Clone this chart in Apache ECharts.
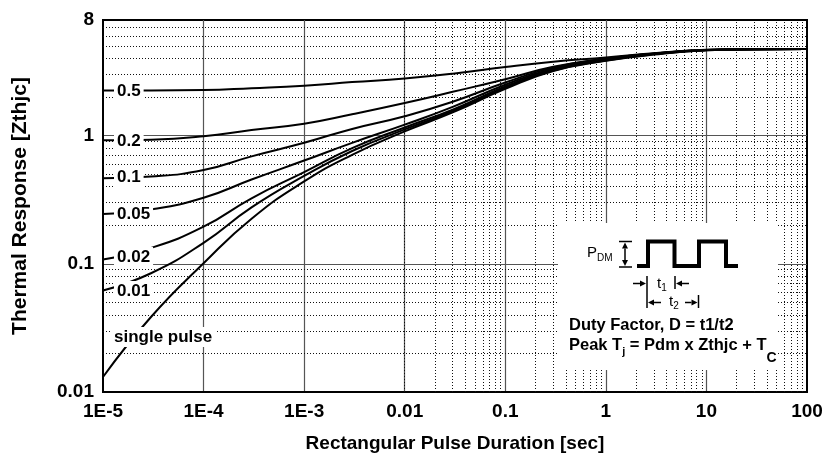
<!DOCTYPE html>
<html>
<head>
<meta charset="utf-8">
<script src="https://cdn.jsdelivr.net/npm/echarts@6/dist/echarts.min.js"></script>
<style>
  html, body { margin: 0; padding: 0; background: #fff; }
  #chart { width: 827px; height: 467px; }
</style>
</head>
<body>
<div id="chart"></div>
<script>
// pulse duration [sec]
const pulseDuration = [1e-5, 3e-5, 1e-4, 3e-4, 1e-3, 3e-3, 0.01, 0.03, 0.1, 0.3, 1, 3, 10, 30, 100];

// Zthjc, one list per duty factor
const zD05 = [2.25, 2.25, 2.27, 2.35, 2.46, 2.62, 2.80, 3.05, 3.44, 3.78, 4.08, 4.40, 4.68, 4.74, 4.76];
const zD02 = [0.92, 0.93, 0.99, 1.11, 1.24, 1.47, 1.80, 2.20, 2.76, 3.45, 4.01, 4.38, 4.67, 4.74, 4.76];
const zD01 = [0.465, 0.48, 0.54, 0.69, 0.88, 1.13, 1.42, 1.84, 2.60, 3.40, 3.98, 4.37, 4.67, 4.74, 4.76];
const zD005 = [0.245, 0.266, 0.328, 0.455, 0.64, 0.88, 1.22, 1.68, 2.50, 3.33, 3.94, 4.36, 4.66, 4.73, 4.76];
const zD002 = [0.108, 0.133, 0.195, 0.325, 0.52, 0.80, 1.16, 1.60, 2.42, 3.27, 3.90, 4.34, 4.66, 4.73, 4.76];
const zD001 = [0.062, 0.0845, 0.146, 0.276, 0.485, 0.76, 1.12, 1.56, 2.37, 3.23, 3.87, 4.32, 4.65, 4.73, 4.76];
const zSingle = [0.0131, 0.0385, 0.101, 0.225, 0.44, 0.71, 1.08, 1.52, 2.32, 3.20, 3.84, 4.30, 4.64, 4.73, 4.76];

const dutyLabels = ["0.5", "0.2", "0.1", "0.05", "0.02", "0.01", "single pulse"];
const xTickLabels = ["1E-5", "1E-4", "1E-3", "0.01", "0.1", "1", "10", "100"];
const yTickValues = [0.01, 0.1, 1, 8];
const yTickLabels = ["0.01", "0.1", "1", "8"];

const FONT = "'Liberation Sans', Arial, sans-serif";

// minor (2..9) grid positions for each decade
const xMinor = [];
for (let e = -5; e <= 1; e++) for (let m = 2; m <= 9; m++) xMinor.push(m * Math.pow(10, e));
const yMinor = [];
for (let e = -2; e <= 0; e++) for (let m = 2; m <= 9; m++) {
  const v = m * Math.pow(10, e);
  if (v < 8) yMinor.push(v);
}

const curves = [zD05, zD02, zD01, zD005, zD002, zD001, zSingle];

const ctx = document.createElement("canvas").getContext("2d");
function textWidth(str, font) {
  ctx.font = font;
  return ctx.measureText(str).width;
}

// text pieces laid out one after another (for subscripts)
function run(x, y, parts) {
  const out = [];
  let cx = x;
  for (const [t, size, bold, dy] of parts) {
    const font = (bold ? "bold " : "") + size + "px " + FONT;
    out.push({ type: "text", z: 12, silent: true, x: cx, y: y + dy,
      style: { text: t, font: font, fill: "#000", verticalAlign: "middle" } });
    cx += textWidth(t, font);
  }
  return out;
}

function arrow(x1, y1, x2, y2) {
  const len = Math.hypot(x2 - x1, y2 - y1);
  const ux = (x2 - x1) / len, uy = (y2 - y1) / len;
  const h = 6, w = 3;
  const bx = x2 - ux * h, by = y2 - uy * h;
  return [
    { type: "line", z: 12, silent: true, shape: { x1: x1, y1: y1, x2: bx, y2: by }, style: { stroke: "#000", lineWidth: 1.5 } },
    { type: "polygon", z: 12, silent: true, shape: { points: [[x2, y2], [bx - uy * w, by + ux * w], [bx + uy * w, by - ux * w]] }, style: { fill: "#000" } }
  ];
}

function vline(x, y1, y2, w) {
  return { type: "line", z: 12, silent: true, shape: { x1: x, y1: y1, x2: x, y2: y2 }, style: { stroke: "#000", lineWidth: w || 1.5 } };
}
function hline(x1, x2, y, w) {
  return { type: "line", z: 12, silent: true, shape: { x1: x1, y1: y, x2: x2, y2: y }, style: { stroke: "#000", lineWidth: w || 1.5 } };
}

// duty factor labels on the left, white boxes over the grid
const labelPos = [[114, 91], [114, 141], [114, 177], [114, 214], [114, 257], [114, 291], [111, 337]];
const curveLabels = dutyLabels.map((t, i) => ({
  type: "text", z: 12, silent: true, x: labelPos[i][0], y: labelPos[i][1],
  style: { text: t, font: "bold 17px " + FONT, fill: "#000", verticalAlign: "middle",
    backgroundColor: "#fff", padding: [2, 3, 1, 3] }
}));

const inset = [
  { type: "rect", z: 11, silent: true, shape: { x: 558, y: 223, width: 220, height: 147 }, style: { fill: "#fff" } },
  ...run(587, 253, [["P", 15, false, 0], ["DM", 10, false, 5]]),
  hline(619, 632, 241.5), hline(619, 632, 267),
  ...arrow(625, 254, 625, 242.5), ...arrow(625, 254, 625, 266),
  { type: "polyline", z: 12, silent: true,
    shape: { points: [[637, 266], [648, 266], [648, 241.5], [674.5, 241.5], [674.5, 266], [699, 266], [699, 241.5], [726, 241.5], [726, 266], [738, 266]] },
    style: { stroke: "#000", lineWidth: 4, lineJoin: "miter", fill: null } },
  vline(647, 276, 308), vline(675, 276, 289), vline(698.5, 295, 308),
  ...arrow(633, 283.5, 646, 283.5), ...arrow(689, 283.5, 676, 283.5),
  ...arrow(661, 302.5, 648, 302.5), ...arrow(685, 302.5, 697.5, 302.5),
  ...run(657, 284, [["t", 15, false, 0], ["1", 10, false, 4]]),
  ...run(669, 302, [["t", 15, false, 0], ["2", 10, false, 4]]),
  ...run(569, 325, [["Duty Factor, D = t1/t2", 16.5, true, 0]]),
  ...run(569, 345, [["Peak T", 16.5, true, 0], ["j", 11, true, 7], [" = Pdm x Zthjc + T", 16.5, true, 0], ["C", 14, true, 13]])
];

const chart = echarts.init(document.getElementById("chart"), null, { renderer: "canvas" });

const series = curves.map((vals, i) => ({
  name: dutyLabels[i],
  type: "line",
  data: pulseDuration.map((x, k) => [x, vals[k]]),
  showSymbol: false,
  smooth: 0.5,
  silent: true,
  z: 3,
  lineStyle: { color: "#000", width: 2 }
}));

series.push({
  type: "line",
  data: [[1e-5, 0.01]],
  showSymbol: false,
  silent: true,
  lineStyle: { opacity: 0 },
  markLine: {
    silent: true,
    z: 1,
    symbol: "none",
    animation: false,
    label: { show: false },
    emphasis: { disabled: true },
    lineStyle: { color: "#111", width: 1, type: [1, 2] },
    data: [...xMinor.map(v => ({ xAxis: v })), ...yMinor.map(v => ({ yAxis: v }))]
  }
});

chart.setOption({
  animation: false,
  backgroundColor: "#fff",
  grid: { left: 103, right: 20, top: 20, bottom: 75, show: true, borderColor: "#000", borderWidth: 2, backgroundColor: "transparent" },
  xAxis: {
    type: "log",
    logBase: 10,
    min: 1e-5,
    max: 100,
    name: "Rectangular Pulse Duration [sec]",
    nameLocation: "middle",
    nameGap: 42,
    nameTextStyle: { fontSize: 19, fontWeight: "bold", color: "#000", fontFamily: FONT },
    axisLine: { show: true, lineStyle: { color: "#000", width: 2 } },
    axisTick: { show: false },
    axisLabel: {
      color: "#000", fontSize: 19, fontWeight: "bold", fontFamily: FONT, margin: 10,
      showMinLabel: true, showMaxLabel: true,
      formatter: v => xTickLabels[Math.round(Math.log10(v)) + 5] || ""
    },
    splitLine: { show: true, showMinLine: false, showMaxLine: false, lineStyle: { color: "#555", width: 1.2 } }
  },
  yAxis: {
    type: "log",
    logBase: 10,
    min: 0.01,
    max: 8,
    name: "Thermal Response [Zthjc]",
    nameLocation: "middle",
    nameGap: 72,
    nameTextStyle: { fontSize: 21, fontWeight: "bold", color: "#000", fontFamily: FONT },
    axisLine: { show: true, lineStyle: { color: "#000", width: 2 } },
    axisTick: { show: false },
    axisLabel: {
      color: "#000", fontSize: 19, fontWeight: "bold", fontFamily: FONT, margin: 9,
      showMinLabel: true, showMaxLabel: true,
      formatter: v => {
        const i = yTickValues.findIndex(t => Math.abs(Math.log10(v / t)) < 0.01);
        return i >= 0 ? yTickLabels[i] : "";
      }
    },
    splitLine: { show: true, showMinLine: false, showMaxLine: false, lineStyle: { color: "#555", width: 1.2 } }
  },
  series: series,
  graphic: [...curveLabels, ...inset]
});
</script>
</body>
</html>
